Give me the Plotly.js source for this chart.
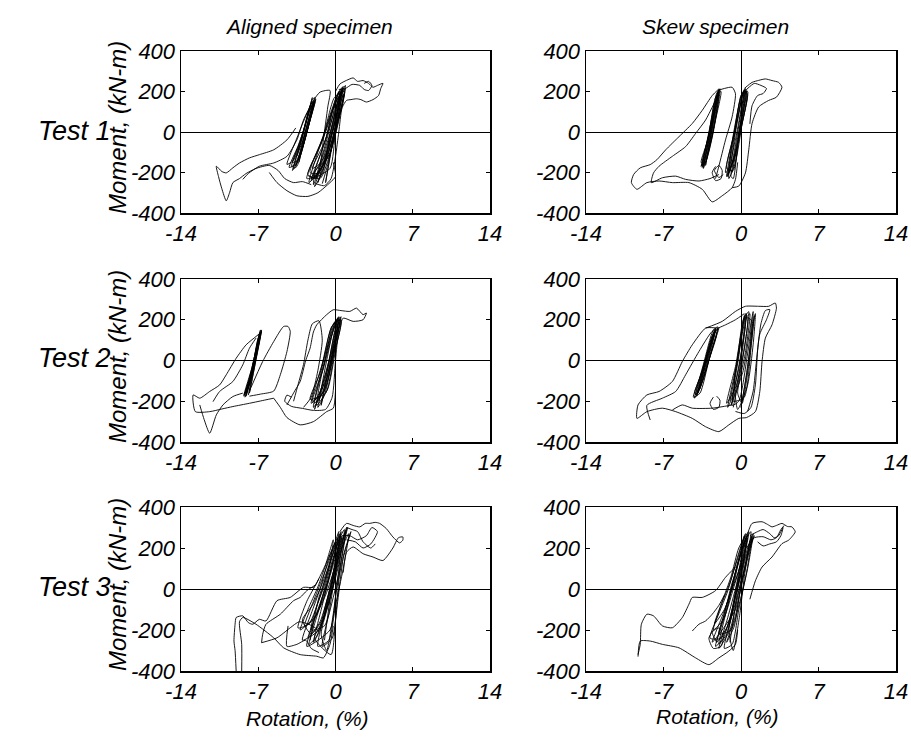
<!DOCTYPE html>
<html><head><meta charset="utf-8">
<script src="https://cdn.plot.ly/plotly-3.0.1.min.js"></script>
<style>html,body{margin:0;padding:0;background:#fff}#plot{width:911px;height:742px}</style>
</head><body><div id="plot"></div>
<script>
// ---------- labels & ticks ----------
const xTickVals = [-14, -7, 0, 7, 14];
const yTickVals = [-400, -200, 0, 200, 400];
const colTitles = ["Aligned specimen", "Skew specimen"];
const rowTitles = ["Test 1", "Test 2", "Test 3"];
const yTitleText = "Moment, (kN-m)";
const xTitleText = "Rotation, (%)";

// ---------- Test 1, aligned ----------
const a1Right = [[-1.8,-230],[-0.6,0],[0.3,200],[0.4,150],[-0.3,0],[-1.2,-170],[-2.0,-220],[-0.8,-20],[0.1,180],[0.5,210],[-0.1,40],[-1.0,-150],[-2.4,-250],[-1.0,0],[0.0,160],[0.6,220],[0.2,60],[-0.5,-100],[-1.5,-200],[-2.2,-240],[-0.9,-40],[-0.2,120],[0.7,215],[0.3,100],[-0.4,-60],[-1.6,-210],[-2.6,-230],[-1.1,-20],[-0.1,170],[0.8,200],[0.4,80],[-0.6,-120],[-1.8,-190],[-2.0,-260],[-0.7,-60],[0.2,150],[0.9,230],[0.5,120],[-0.3,-40],[-1.3,-200],[-2.3,-200],[-0.9,0],[0.4,200],[0.7,160],[0.0,20],[-0.8,-130],[-1.6,-250],[-0.4,-30],[0.5,190],
 [-0.9,-250],[-0.2,-20],[0.5,180],[0.9,215],[0.4,90],[-0.4,-90],[-1.4,-230],[-2.5,-210],[-1.3,-60],[-0.4,90],[0.6,205],[0.2,140],[-0.5,-10],[-1.1,-190],[-1.9,-270],[-0.7,-80],[0.1,110],[0.7,225],[0.3,170],[-0.4,10],[-1.5,-160],[-2.1,-180],[-1.0,-50],[-0.1,100],[0.6,210],[0.0,60],[-0.9,-110],[-2.2,-230],[-0.5,-180],[0.0,0],[0.6,170],[0.8,190],[0.1,30],[-0.7,-160],[-1.2,-255]];
const a1Left = [[-3.3,-150],[-2.8,-20],[-2.0,150],[-2.1,110],[-2.6,0],[-3.5,-170],[-3.8,-180],[-3.0,-30],[-2.1,160],[-1.9,170],[-2.4,40],[-3.2,-120],[-3.9,-190],[-3.1,-40],[-2.3,130],[-1.8,165],[-2.3,60],[-3.0,-80],[-3.6,-170],[-3.2,-100],[-2.5,50],[-1.9,150],[-2.2,80],[-2.9,-60],[-3.7,-160],[-4.0,-170],[-3.2,-50],[-2.4,100],[-1.8,160],[-2.5,20],[-3.4,-140],
 [-3.9,-150],[-3.3,-60],[-2.6,60],[-2.0,150],[-2.3,90],[-2.8,-10],[-3.6,-160],[-4.2,-175],[-3.4,-70],[-2.7,40],[-2.1,170],[-2.4,110],[-3.1,-40],[-3.8,-140],[-4.4,-160],[-3.5,-30],[-2.6,90],[-2.0,140],[-2.7,0],[-3.5,-120]];
const a1Loops = [
 [[-3.6,20],[-4.4,-39],[-5.6,-88],[-6.9,-112],[-7.8,-128],[-8.7,-153],[-9.3,-177],[-9.9,-202],[-10.3,-195],[-10.8,-169],[-10.6,-220],[-10.3,-280],[-9.9,-340],[-9.6,-300],[-9.3,-250],[-8.7,-230],[-8.1,-205],[-7.2,-180],[-6.0,-165],[-5.2,-190],[-4.6,-230],[-3.8,-250],[-3.0,-245],[-2.2,-260]],
 [[-8.4,-234],[-7.9,-205],[-6.9,-169],[-5.6,-153],[-4.4,-120],[-3.5,-39],[-2.9,59],[-2.0,156],[-1.4,197],[-0.5,205],[-0.7,124],[-1.1,-39],[-1.4,-169],[-1.8,-230],[-2.5,-215]],
 [[-6.0,-200],[-5.3,-250],[-4.4,-290],[-3.5,-315],[-2.5,-318],[-1.6,-300],[-0.5,-250],[0.0,-220],[-0.2,-150]],
 [[0.0,200],[0.4,237],[1.0,255],[1.6,267],[2.0,250],[2.5,254],[3.0,240],[3.4,221],[3.8,230],[4.3,240],[4.1,215],[3.9,180],[3.4,160],[2.8,148],[2.3,160],[1.9,164],[1.4,160],[1.0,156],[0.6,120],[0.3,0],[0.0,-120],[-0.4,-230],[-1.0,-265],[-1.8,-255]],
 [[0.3,210],[0.9,215],[1.5,235],[2.2,230],[2.6,210],[3.0,205],[3.3,230],[3.0,250],[2.6,240]]
];

// ---------- Test 1, skew ----------
const b1Left = [[-3.4,-170],[-2.8,0],[-2.1,200],[-2.0,180],[-2.5,0],[-3.2,-150],[-3.5,-160],[-2.9,-10],[-2.2,190],[-1.9,210],[-2.4,40],[-3.1,-130],[-3.4,-180],[-2.7,20],[-2.0,205],[-2.1,150],[-2.6,-20],[-3.3,-160],[-3.6,-150],[-3.0,-40],[-2.3,170],[-1.8,200],[-2.3,60],[-3.0,-100],[-3.5,-175],[-2.9,0],[-2.1,195],
 [-3.2,-165],[-2.6,20],[-2.0,210],[-2.2,160],[-2.8,-20],[-3.4,-145],[-3.6,-170],[-2.8,10],[-2.1,185],[-2.0,200],[-2.6,10],[-3.3,-140],[-3.5,-165],[-2.7,30],[-1.9,215]];
const b1Right = [[-1.0,-200],[-0.5,0],[0.2,200],[0.3,170],[-0.2,0],[-0.8,-160],[-1.2,-210],[-0.6,-20],[0.0,180],[0.5,210],[0.0,50],[-0.6,-130],[-1.3,-220],[-0.7,-30],[0.1,190],[0.6,200],[0.1,40],[-0.5,-150],[-1.1,-230],[-0.8,-50],[-0.1,150],[0.4,215],[0.2,90],[-0.4,-80],[-1.0,-180],[-1.4,-200],[-0.6,0],[0.3,205],[0.5,160],[-0.1,-10],[-0.9,-220],
 [-0.7,-230],[-0.2,-20],[0.4,200],[0.5,190],[-0.1,20],[-0.7,-190],[-1.3,-180],[-0.5,10],[0.2,195],[0.3,210],[-0.2,30],[-0.8,-150],[-1.2,-220],[-0.4,-10],[0.4,205],[0.6,180],[0.0,20],[-0.8,-200]];
const b1Loops = [
 [[-2.0,213],[-2.6,180],[-3.5,107],[-4.4,42],[-5.6,-23],[-6.8,-88],[-7.6,-137],[-8.2,-161],[-9.1,-177],[-9.7,-210],[-9.9,-250],[-9.4,-283],[-8.5,-250],[-7.4,-242],[-6.2,-250],[-4.7,-250],[-3.5,-283],[-2.6,-345],[-1.7,-315],[-0.8,-275],[-0.5,-234],[-0.3,-150]],
 [[-2.3,156],[-3.2,59],[-4.1,-7],[-5.0,-72],[-6.2,-120],[-7.4,-169],[-7.9,-202],[-8.1,-250],[-7.1,-226],[-5.9,-218],[-5.0,-234],[-3.8,-242],[-2.8,-230],[-2.0,-210]],
 [[-2.1,205],[-1.5,215],[-0.8,221],[-0.5,189],[-0.8,75],[-1.4,-39],[-2.0,-169],[-2.3,-230]],
 [[0.3,215],[1.0,245],[1.6,255],[2.2,262],[2.8,254],[3.4,245],[3.7,221],[3.2,172],[2.5,156],[1.6,124],[1.0,42],[0.7,-88],[0.4,-202],[-0.2,-267],[-0.8,-275]],
 [[0.5,210],[1.2,240],[1.8,230],[2.3,215],[2.0,190],[1.5,180],[1.0,130],[0.8,40]],
 [[-2.3,-170],[-2.6,-200],[-2.3,-240],[-1.8,-230],[-1.7,-190],[-2.0,-165],[-2.4,-190],[-2.0,-225],[-1.6,-210]]
];

// ---------- Test 2, aligned ----------
const a2Left = [[-7.9,-170],[-7.3,0],[-6.8,140],[-6.9,100],[-7.4,-20],[-8.0,-150],[-8.2,-180],[-7.5,-20],[-6.9,120],[-6.7,150],[-7.1,40],[-7.8,-120],[-8.3,-170],[-7.6,-40],[-7.0,100],[-6.8,140],[-7.2,20],[-7.9,-140],[-8.1,-175],[-7.4,-10],[-6.9,130],[-7.0,80],[-7.6,-60],[-8.2,-160],[-7.7,-100],[-7.1,60],[-6.7,145],
 [-7.8,-160],[-7.2,10],[-6.8,130],[-7.0,110],[-7.5,-30],[-8.1,-165],[-8.0,-150],[-7.3,10],[-6.8,150],[-7.1,90],[-7.7,-80],[-8.3,-175],[-7.5,-30],[-6.9,125]];
const a2Right = [[-1.5,-200],[-0.8,0],[0.0,190],[0.2,160],[-0.4,0],[-1.2,-160],[-1.9,-210],[-1.0,-10],[-0.2,180],[0.4,210],[-0.1,60],[-0.9,-130],[-2.0,-230],[-1.2,-30],[-0.3,170],[0.5,200],[0.0,50],[-0.7,-140],[-1.7,-220],[-1.3,-80],[-0.5,100],[0.3,215],[-0.1,90],[-0.8,-90],[-1.8,-190],[-2.2,-210],[-1.1,0],[0.1,200],[0.5,190],[-0.2,20],[-1.0,-170],[-1.6,-230],[-0.6,-20],[0.3,190],
 [-1.3,-220],[-0.6,-10],[0.1,180],[0.4,200],[-0.2,40],[-1.0,-150],[-2.1,-200],[-1.1,-40],[-0.3,130],[0.2,210],[-0.3,60],[-1.2,-120],[-1.9,-240],[-0.8,-50],[0.0,150],[0.5,215],[0.0,80],[-0.9,-160],[-2.3,-190],[-1.4,-60],[-0.4,160],[0.2,200]];
const a2Loops = [
 [[-6.7,140],[-7.2,118],[-8.1,77],[-9.0,11],[-9.9,-70],[-10.5,-120],[-11.4,-152],[-12.3,-185],[-12.9,-169],[-12.7,-251],[-11.4,-251],[-10.3,-238],[-9.3,-226],[-7.8,-210],[-6.3,-193],[-5.6,-185]],
 [[-12.3,-218],[-11.9,-290],[-11.4,-357],[-10.8,-267],[-10.2,-218],[-9.3,-177],[-8.4,-160]],
 [[-11.1,-202],[-10.5,-152],[-9.3,-103],[-8.4,-21],[-7.8,60],[-7.2,110]],
 [[-7.8,-150],[-6.6,-5],[-5.6,93],[-4.7,167],[-4.3,167],[-4.1,143],[-4.4,44],[-5.0,-70],[-5.6,-150],[-6.8,-165],[-7.8,-175]],
 [[-5.6,-185],[-5.0,-230],[-4.4,-280],[-3.2,-316],[-2.0,-300],[-0.8,-251],[-0.2,-234],[0.0,-150]],
 [[-4.4,-218],[-3.7,-150],[-3.2,-103],[-2.7,0],[-2.3,61],[-2.0,140],[-1.7,175],[-0.8,225],[-0.2,249],[0.5,245],[1.3,241],[1.9,257],[2.5,225],[2.8,233],[2.5,200],[1.6,192],[0.7,208],[0.3,150],[0.0,0],[-0.3,-180],[-0.9,-240],[-2.0,-245],[-3.0,-235],[-4.0,-225],[-4.6,-200],[-4.4,-170],[-4.0,-180]],
 [[-3.8,-200],[-3.4,-120],[-2.9,-20],[-2.5,100],[-2.1,180],[-1.5,195],[-1.2,100],[-1.6,-50],[-2.2,-180],[-2.9,-230]]
];

// ---------- Test 2, skew ----------
const b2Left = [[-4.0,-175],[-3.2,0],[-2.3,160],[-2.4,120],[-3.0,0],[-3.8,-150],[-4.2,-185],[-3.4,-20],[-2.5,150],[-2.1,165],[-2.7,40],[-3.6,-120],[-4.1,-170],[-3.3,-10],[-2.4,145],[-2.2,130],[-2.9,0],[-3.7,-160],[-4.3,-180],[-3.5,-50],[-2.6,120],[-2.0,160],[-2.6,60],[-3.4,-90],[-4.0,-165],[-3.1,20],[-2.3,150],
 [-3.9,-160],[-3.1,10],[-2.3,150],[-2.5,110],[-3.2,-20],[-4.0,-170],[-4.2,-160],[-3.3,-30],[-2.4,140],[-2.1,155],[-2.8,20],[-3.7,-140]];
const b2Right = [[-1.0,-200],[-0.3,0],[0.3,220],[0.4,180],[-0.1,0],[-0.8,-180],[-1.2,-230],[-0.4,-20],[0.2,200],[0.7,240],[0.3,60],[-0.5,-150],[-0.9,-220],[0.2,-50],[0.8,150],[1.1,240],[0.9,100],[0.4,-100],[0.0,-230],[0.6,-40],[1.0,160],[1.3,230],[1.1,80],[0.6,-120],[-0.3,-240],[-0.6,-100],[0.0,100],[0.5,230],[0.2,80],[-0.4,-120],[-1.3,-210],[-0.5,-30],[0.4,210],[0.9,200],[0.5,0],[-0.2,-200],
 [-0.8,-220],[-0.1,-10],[0.5,210],[0.8,230],[0.4,40],[-0.3,-160],[0.1,-210],[0.7,-20],[1.1,170],[1.2,220],[0.9,60],[0.3,-180],[-0.7,-200],[-0.2,20],[0.4,230],[0.6,190],[0.0,-40],[-0.7,-230]];
const b2Loops = [
 [[-2.3,160],[-3.2,159],[-4.4,77],[-5.3,-5],[-6.2,-103],[-7.4,-152],[-8.5,-169],[-9.3,-218],[-9.4,-284],[-8.5,-251],[-7.1,-234],[-5.9,-251],[-4.4,-284],[-3.2,-325],[-2.0,-349],[-1.1,-316],[-0.2,-284],[0.5,-280],[1.3,-251],[1.7,-152],[1.9,-5],[2.2,110],[2.8,175],[3.2,257],[3.1,282],[2.5,266],[1.6,266],[0.4,266],[-0.5,241],[-1.7,192],[-3.2,159]],
 [[-8.2,-292],[-8.5,-220],[-7.1,-185],[-5.9,-152],[-5.0,-70],[-3.8,44],[-2.6,143],[-1.4,175],[-0.5,200],[0.3,230]],
 [[-6.2,-243],[-5.3,-218],[-4.4,-234],[-2.6,-234],[-1.5,-225],[-0.8,-218]],
 [[-0.5,-250],[0.3,-260],[0.9,-230],[1.3,-120],[1.5,50],[1.8,180],[2.2,245],[2.6,250],[2.3,200],[1.7,130],[1.4,0],[1.1,-150],[0.6,-250]],
 [[-2.5,-180],[-2.8,-210],[-2.5,-240],[-2.0,-230],[-1.9,-195],[-2.2,-175]]
];

// ---------- Test 3, aligned ----------
const a3Core = [[-1.0,-250],[-0.5,-50],[0.2,200],[0.5,280],[0.2,150],[-0.5,-20],[-1.4,-200],[-2.0,-260],[-1.2,-80],[-0.3,120],[0.4,260],[0.0,100],[-0.8,-60],[-1.7,-230],[-2.4,-270],[-1.5,-100],[-0.6,80],[0.3,240],[0.8,290],[0.3,120],[-0.5,-50],[-1.3,-220],[-0.8,-300],[-0.2,-120],[0.2,50],[0.6,220],[1.0,300],[0.5,130],[-0.2,-40],[-1.0,-180],[-2.2,-200],[-1.8,-100],[-1.0,20],[-0.2,180],[0.4,270],[0.0,120],[-0.9,-30],[-2.0,-150],[-2.8,-180],[-2.0,-60],[-1.2,50],[-0.5,150],[0.3,280],[-0.1,160],[-0.7,40],[-1.6,-100],[-2.5,-240],[-1.4,-160],[-0.5,0],[0.5,190],[1.2,270],[0.7,100],[0.0,-80],[-0.6,-250],[-1.6,-280],[-1.0,-120],[-0.3,60],[0.6,250],[0.2,200],[-0.4,20],[-1.1,-150],[-1.9,-240],[-0.4,-320],[0.0,-150],[0.4,100],[0.9,280],[0.5,220],[-0.3,0],[-1.5,-200],
 [-3.0,-250],[-2.2,-120],[-1.4,0],[-0.6,150],[0.2,250],[0.0,180],[-0.8,20],[-1.8,-130],[-3.2,-200],[-2.5,-100],[-1.6,10],[-0.8,130],[0.0,230],[-0.3,160],[-1.1,40],[-2.1,-80],[-3.0,-150],[-2.2,-220],[-1.2,-150],[-0.4,-20],[0.4,160],[1.1,300],[0.6,230],[0.0,80],[-0.6,-120],[-1.2,-280],[-0.3,-240],[0.2,-60],[0.7,150],[1.4,280],[0.8,180],[0.1,0],[-0.5,-200],[-2.6,-280],[-1.9,-150],[-1.0,-30],[-0.2,120],[0.6,260],[-0.4,150],[-1.3,-20],[-2.4,-170],[-3.4,-190],[-2.6,-60],[-1.7,30],[-0.9,120],[-0.2,240],[-0.6,100],[-1.5,-40],[-2.3,-250]];
const a3Loops = [
 [[0.4,280],[1.0,320],[1.6,310],[2.2,303],[2.7,320],[3.1,320],[3.6,325],[4.0,320],[4.6,295],[5.2,254],[5.8,225],[6.1,238],[6.1,254],[5.7,250],[5.2,200],[4.3,139],[3.4,156],[2.5,172],[1.6,205],[1.0,180],[0.7,80]],
 [[0.6,260],[1.3,260],[2.0,240],[2.8,260],[3.3,300],[3.8,280],[3.2,220],[2.5,200],[1.8,230],[1.0,240]],
 [[1.0,300],[1.5,290],[2.0,280],[2.5,230],[3.2,200],[3.6,220]],
 [[-9.0,-402],[-9.1,-300],[-9.2,-254],[-9.1,-172],[-9.0,-139],[-8.4,-131],[-7.9,-164],[-7.5,-172],[-6.9,-148],[-6.3,-156],[-5.3,-57],[-4.1,-41],[-2.9,8],[-2.0,8],[-1.5,50]],
 [[-8.5,-402],[-8.5,-270],[-8.7,-160],[-8.4,-139],[-7.2,-172],[-5.6,-238],[-4.7,-287],[-3.2,-320],[-1.7,-328],[-1.1,-336],[-0.5,-270],[-0.2,-180]],
 [[-6.7,-262],[-6.6,-221],[-6.3,-172],[-5.0,-123],[-3.8,-57],[-3.2,-41],[-2.6,-8],[-1.8,20]],
 [[-6.7,-262],[-5.3,-238],[-4.1,-189],[-3.3,-160],[-2.5,-170],[-1.8,-190]],
 [[-4.3,-180],[-4.4,-280],[-3.5,-270],[-2.7,-250],[-2.2,-290],[-1.5,-310]]
];

// ---------- Test 3, skew ----------
const b3Core = [[-1.0,-260],[-0.4,-40],[0.2,200],[0.6,270],[0.2,120],[-0.5,-40],[-1.3,-220],[-2.0,-270],[-1.1,-60],[-0.2,150],[0.5,250],[0.1,100],[-0.7,-80],[-1.6,-240],[-2.3,-280],[-1.3,-100],[-0.4,100],[0.4,240],[0.9,280],[0.4,120],[-0.3,-30],[-1.1,-200],[-0.7,-300],[-0.1,-120],[0.3,60],[0.8,230],[1.1,270],[0.6,100],[-0.1,-60],[-0.9,-200],[-2.0,-220],[-1.5,-120],[-0.8,20],[0.0,180],[0.5,260],[0.0,130],[-0.7,0],[-1.6,-150],[-2.5,-200],[-1.8,-80],[-1.0,30],[-0.3,150],[0.4,270],[-0.1,150],[-0.8,30],[-1.5,-120],[-2.2,-260],[-1.2,-180],[-0.4,0],[0.6,200],[1.0,260],[0.5,80],[-0.2,-100],[-0.8,-270],[-1.5,-290],[-0.8,-120],[-0.2,60],[0.5,230],[0.2,200],[-0.4,20],[-1.0,-150],[-1.8,-240],
 [-2.8,-240],[-2.0,-120],[-1.2,-10],[-0.4,140],[0.3,260],[0.0,190],[-0.6,40],[-1.5,-100],[-2.4,-170],[-1.7,-60],[-0.9,60],[-0.2,200],[0.7,280],[0.3,160],[-0.4,20],[-1.2,-140],[-2.0,-290],[-1.0,-200],[-0.3,-40],[0.4,150],[1.2,260],[0.7,180],[0.0,20],[-0.6,-180],[-1.3,-260],[-0.5,-130],[0.1,40],[0.7,200],[1.0,250],[0.3,80],[-0.5,-100],[-1.7,-200],[-2.6,-260],[-1.6,-120],[-0.8,0],[0.0,120],[0.6,250]];
const b3Loops = [
 [[0.6,270],[1.0,320],[1.9,328],[2.4,315],[2.8,303],[3.2,310],[3.7,320],[4.2,305],[4.6,303],[4.9,279],[4.6,255],[4.3,238],[3.7,221],[2.8,156],[1.9,107],[1.3,40],[0.8,-50]],
 [[0.8,260],[1.5,280],[2.0,290],[2.6,270],[3.0,250],[3.4,260],[3.8,300],[3.6,260],[3.2,230],[2.6,220],[2.0,210],[1.5,230]],
 [[0.5,200],[1.2,250],[2.0,255],[2.7,240],[3.2,250],[3.6,290],[3.9,310]],
 [[-9.3,-320],[-9.1,-270],[-9.0,-172],[-8.5,-123],[-7.9,-131],[-7.1,-180],[-6.2,-189],[-5.3,-139],[-4.7,-74],[-4.4,-41],[-3.5,-41],[-2.3,-8],[-1.4,57],[-0.5,107]],
 [[-9.3,-330],[-9.1,-254],[-8.2,-254],[-7.1,-270],[-5.6,-287],[-4.1,-336],[-2.9,-369],[-2.0,-336],[-1.1,-303],[-0.5,-270],[-0.3,-200]],
 [[-4.4,-205],[-3.8,-172],[-3.2,-156],[-2.6,-123],[-2.0,-80],[-1.5,-30]],
 [[-2.5,-200],[-2.9,-240],[-2.5,-290],[-1.8,-280],[-1.6,-230],[-2.0,-190],[-2.6,-210],[-2.2,-260]]
];

// ---------- build ----------
const panels = [
  {paths: [a1Right, a1Left].concat(a1Loops), ax: ''},
  {paths: [b1Left, b1Right].concat(b1Loops), ax: '2'},
  {paths: [a2Left, a2Right].concat(a2Loops), ax: '3'},
  {paths: [b2Left, b2Right].concat(b2Loops), ax: '4'},
  {paths: [a3Core].concat(a3Loops), ax: '5'},
  {paths: [b3Core].concat(b3Loops), ax: '6'}
];
const traces = [];
panels.forEach(p => {
  p.paths.forEach(path => {
    traces.push({
      x: path.map(q => q[0]), y: path.map(q => q[1]),
      xaxis: 'x' + p.ax, yaxis: 'y' + p.ax,
      type: 'scatter', mode: 'lines', hoverinfo: 'skip', showlegend: false,
      line: {color: '#000', width: 0.9, shape: 'spline', smoothing: 0.6}
    });
  });
});

const W = 911, H = 742;
const colDom = [[181/W, 490/W], [586/W, 896/W]];
const rowDom = [[1-213/H, 1-51/H], [1-442/H, 1-279/H], [1-671/H, 1-507/H]];
const FONT = 'Liberation Sans, Arial, Helvetica, sans-serif';
const tickFont = {family: FONT, size: 22, color: '#000', style: 'italic'};

const layout = {
  width: W, height: H, margin: {l: 0, r: 0, t: 0, b: 0},
  paper_bgcolor: '#fff', plot_bgcolor: '#fff', showlegend: false,
  annotations: []
};
for (let i = 0; i < 6; i++) {
  const r = Math.floor(i / 2), c = i % 2;
  const s = i === 0 ? '' : String(i + 1);
  layout['xaxis' + s] = {
    domain: colDom[c], anchor: 'y' + s, range: [-14, 14], tickvals: xTickVals,
    ticktext: xTickVals.map(String), ticks: 'inside', ticklen: 4, tickcolor: '#000',
    showline: true, linecolor: '#000', linewidth: 1.5, mirror: 'ticks',
    showgrid: false, zeroline: true, zerolinecolor: '#000', zerolinewidth: 1,
    tickfont: tickFont, fixedrange: true
  };
  layout['yaxis' + s] = {
    domain: rowDom[r], anchor: 'x' + s, range: [-400, 400], tickvals: yTickVals,
    ticktext: yTickVals.map(String), ticks: 'inside', ticklen: 4, tickcolor: '#000',
    showline: true, linecolor: '#000', linewidth: 1.5, mirror: 'ticks',
    showgrid: false, zeroline: true, zerolinecolor: '#000', zerolinewidth: 1,
    tickfont: tickFont, fixedrange: true
  };
}
const ann = (text, px, py, size, angle) => ({
  text: text, xref: 'paper', yref: 'paper', x: px / W, y: 1 - py / H,
  xanchor: 'center', yanchor: 'middle', showarrow: false, textangle: angle || 0,
  font: {family: FONT, size: size, color: '#000', style: 'italic'}
});
layout.annotations.push(ann(colTitles[0], 309, 26, 21));
layout.annotations.push(ann(colTitles[1], 715, 26, 21));
[131, 358, 587].forEach((py, k) => layout.annotations.push(ann(rowTitles[k], 74, py, 27)));
[128, 357, 585].forEach(py => layout.annotations.push(ann(yTitleText, 117, py, 24, -90)));
layout.annotations.push(ann(xTitleText, 307, 718, 21));
layout.annotations.push(ann(xTitleText, 717, 716, 21));

Plotly.newPlot('plot', traces, layout, {staticPlot: true, displayModeBar: false});
</script>
</body></html>
